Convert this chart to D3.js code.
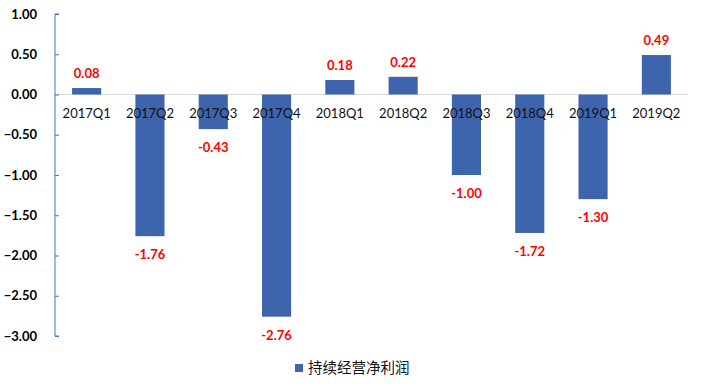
<!DOCTYPE html>
<html>
<head>
<meta charset="utf-8">
<script src="https://cdn.jsdelivr.net/npm/d3@7"></script>
<style>
  body { margin: 0; background: #fff; }
  text { font-family: Lato, "Noto Sans CJK SC", sans-serif; }
</style>
</head>
<body>
<div id="chart"></div>
<script>
const categories = ['2017Q1', '2017Q2', '2017Q3', '2017Q4', '2018Q1', '2018Q2', '2018Q3', '2018Q4', '2019Q1', '2019Q2'];
const values = [0.08, -1.76, -0.43, -2.76, 0.18, 0.22, -1.00, -1.72, -1.30, 0.49];
const yTicks = [1, 0.5, 0, -0.5, -1, -1.5, -2, -2.5, -3];
const seriesName = '持续经营净利润';

const width = 701;
const height = 388;

const svg = d3.select('#chart').append('svg')
    .attr('width', width)
    .attr('height', height);

const x = d3.scaleBand()
    .domain(categories)
    .range([55, 688])
    .paddingInner(0.54)
    .paddingOuter(0.27);

const y = d3.scaleLinear()
    .domain([-3, 1])
    .range([336, 14]);

// zero line
svg.append('line')
    .attr('x1', 55).attr('x2', 688)
    .attr('y1', y(0)).attr('y2', y(0))
    .attr('stroke', '#d9d9d9')
    .attr('stroke-width', 1);

// bars
svg.selectAll('.bar')
    .data(values)
    .enter()
    .append('rect')
    .attr('x', (d, i) => x(categories[i]))
    .attr('y', d => y(Math.max(0, d)))
    .attr('width', x.bandwidth())
    .attr('height', d => Math.abs(y(d) - y(0)))
    .attr('fill', '#3d64ad');

// y axis
const yAxis = svg.append('g')
    .attr('transform', 'translate(55,0)')
    .call(d3.axisRight(y).tickValues(yTicks).tickSize(4).tickFormat(d3.format('.2f')));
yAxis.select('.domain').attr('stroke', '#4472c4').attr('d', `M4,${y(1)}H0V${y(-3)}H4`);
yAxis.selectAll('.tick line').attr('stroke', '#4472c4');
yAxis.selectAll('.tick text')
    .attr('x', -18)
    .attr('text-anchor', 'end')
    .attr('fill', '#000')
    .style('font-size', '13px')
    .style('font-weight', 'bold');

// category labels
svg.selectAll('.cat')
    .data(categories)
    .enter()
    .append('text')
    .attr('x', d => x(d) + x.bandwidth() / 2)
    .attr('y', y(0) + 23)
    .attr('text-anchor', 'middle')
    .style('font-size', '13px')
    .attr('fill', '#111')
    .text(d => d);

// value labels
svg.selectAll('.val')
    .data(values)
    .enter()
    .append('text')
    .attr('x', (d, i) => x(categories[i]) + x.bandwidth() / 2)
    .attr('y', d => d >= 0 ? y(d) - 10 : y(d) + 23)
    .attr('text-anchor', 'middle')
    .attr('fill', '#ff0000')
    .style('font-size', '13px')
    .style('font-weight', 'bold')
    .text(d => d.toFixed(2));

// legend
const legend = svg.append('g').attr('transform', 'translate(295,364)');
legend.append('rect')
    .attr('width', 8).attr('height', 8)
    .attr('fill', '#3d64ad');
legend.append('text')
    .attr('x', 13)
    .attr('y', 9)
    .style('font-size', '14.5px')
    .style('font-family', '"Noto Sans CJK SC", sans-serif')
    .attr('fill', '#111')
    .text(seriesName);
</script>
</body>
</html>
